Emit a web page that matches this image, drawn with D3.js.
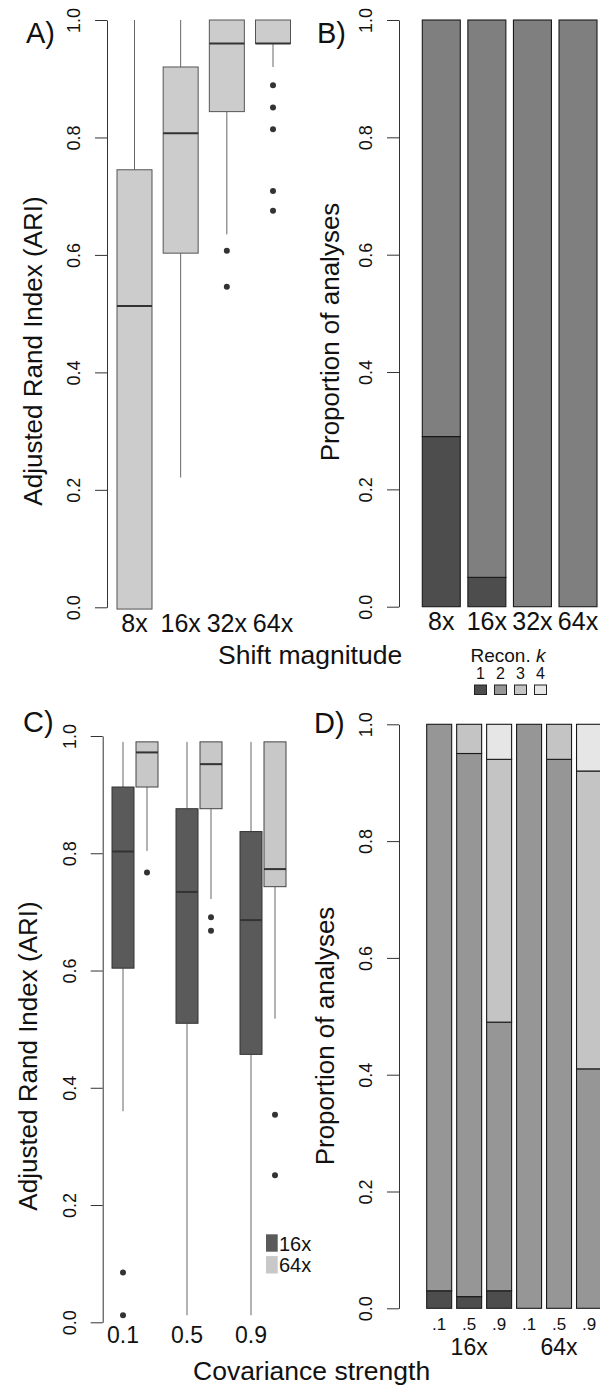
<html>
<head>
    <script src="https://d3js.org/d3.v7.min.js"></script>
    <style>
        body { margin: 0; background: #fff; }
        text { font-family: "Liberation Sans", Arial, Helvetica, sans-serif; fill: #111; }
    </style>
</head>

<body>
    <svg id="fig"></svg>

    <script>
        var W = 600, H = 1389;

        // panel A: ARI by shift magnitude (lower whisker, Q1, median, Q3, upper whisker)
        var shiftLabels = ["8x", "16x", "32x", "64x"];
        var shiftStats = [
            [-0.003, -0.003, 0.513, 0.745, 1.0],
            [0.221, 0.603, 0.807, 0.920, 1.0],
            [0.635, 0.844, 0.960, 1.0, 1.0],
            [0.920, 0.960, 0.960, 1.0, 1.0]
        ];
        var shiftOutliers = [[], [], [0.607, 0.546], [0.889, 0.851, 0.814, 0.709, 0.675]];

        // panel B: proportion of analyses by reconstructed k
        var reconK = ["1", "2", "3", "4"];
        var shiftPropK1 = [0.29, 0.05, 0.0, 0.0];
        var shiftPropK2 = [0.71, 0.95, 1.0, 1.0];

        // panel C: ARI by covariance strength, 16x and 64x
        var covLabels = ["0.1", "0.5", "0.9"];
        var cov16Stats = [
            [0.360, 0.604, 0.803, 0.913, 0.990],
            [0.012, 0.510, 0.734, 0.876, 0.990],
            [0.012, 0.457, 0.686, 0.837, 0.990]
        ];
        var cov64Stats = [
            [0.804, 0.913, 0.972, 0.990, 0.990],
            [0.722, 0.876, 0.952, 0.990, 0.990],
            [0.518, 0.743, 0.773, 0.990, 0.990]
        ];
        var cov16Outliers = [[0.085, 0.012], [], []];
        var cov64Outliers = [[0.767], [0.691, 0.668], [0.354, 0.251]];
        var shiftGroups = ["16x", "64x"];

        // panel D: proportion of analyses by reconstructed k
        var covTicks = [".1", ".5", ".9", ".1", ".5", ".9"];
        var covPropK1 = [0.03, 0.02, 0.03, 0.0, 0.0, 0.0];
        var covPropK2 = [0.97, 0.93, 0.46, 1.0, 0.94, 0.41];
        var covPropK3 = [0.0, 0.05, 0.45, 0.0, 0.06, 0.51];
        var covPropK4 = [0.0, 0.0, 0.06, 0.0, 0.0, 0.08];

        var yTicks = [0, 0.2, 0.4, 0.6, 0.8, 1.0];
        var kColors = ["#4d4d4d", "#969696", "#c4c4c4", "#e6e6e6"];

        var svg = d3.select("#fig").attr("width", W).attr("height", H);

        function yAxis(g, y, x0)
        {
            g.attr("transform", "translate(" + x0 + ",0)")
                .call(d3.axisLeft(y).tickValues(yTicks).tickFormat(d3.format(".1f"))
                    .tickSize(12).tickSizeOuter(0));
            g.select(".domain").attr("stroke", "#333");
            g.selectAll(".tick line").attr("stroke", "#333");
            g.selectAll(".tick text")
                .attr("transform", "rotate(-90)")
                .attr("x", 0).attr("y", -27).attr("dy", 0)
                .attr("text-anchor", "middle")
                .style("font-size", "18px")
                .attr("fill", "#222");
        }

        function yTitle(txt, x, cy)
        {
            svg.append("text")
                .attr("transform", "translate(" + x + "," + cy + ") rotate(-90)")
                .attr("text-anchor", "middle")
                .style("font-size", "26px")
                .text(txt);
        }

        function label(txt, x, y, size, anchor)
        {
            return svg.append("text")
                .attr("x", x).attr("y", y)
                .attr("text-anchor", anchor || "middle")
                .style("font-size", size + "px")
                .text(txt);
        }

        function boxes(data, outs, xs, y, w, fill, stroke, wcol)
        {
            var g = svg.append("g");
            data.forEach(function(s, i)
            {
                var cx = xs(i);
                // whiskers
                g.append("line").attr("x1", cx).attr("x2", cx)
                    .attr("y1", y(s[4])).attr("y2", y(s[3]))
                    .attr("stroke", wcol).attr("stroke-width", 1);
                g.append("line").attr("x1", cx).attr("x2", cx)
                    .attr("y1", y(s[1])).attr("y2", y(s[0]))
                    .attr("stroke", wcol).attr("stroke-width", 1);
                g.append("rect")
                    .attr("x", cx - w / 2).attr("width", w)
                    .attr("y", y(s[3])).attr("height", Math.max(0, y(s[1]) - y(s[3])))
                    .attr("fill", fill).attr("stroke", stroke).attr("stroke-width", 1);
                g.append("line")
                    .attr("x1", cx - w / 2).attr("x2", cx + w / 2)
                    .attr("y1", y(s[2])).attr("y2", y(s[2]))
                    .attr("stroke", "#333").attr("stroke-width", 2);
                g.selectAll(null).data(outs[i]).enter().append("circle")
                    .attr("cx", cx).attr("cy", function(d){ return y(d); })
                    .attr("r", 3).attr("fill", "#333");
            });
        }

        function stacks(series, colors, xb, y)
        {
            var n = series[0].length;
            var rows = d3.range(n).map(function(i)
            {
                var r = {i: i};
                series.forEach(function(s, k){ r["k" + k] = s[i]; });
                return r;
            });
            var keys = series.map(function(s, k){ return "k" + k; });
            var st = d3.stack().keys(keys)(rows);
            var g = svg.append("g");
            st.forEach(function(layer, k)
            {
                g.selectAll(null).data(layer.filter(function(d){ return d[1] - d[0] > 0; }))
                    .enter().append("rect")
                    .attr("x", function(d){ return xb(d.data.i); })
                    .attr("width", xb.bandwidth())
                    .attr("y", function(d){ return y(d[1]); })
                    .attr("height", function(d){ return y(d[0]) - y(d[1]); })
                    .attr("fill", colors[k])
                    .attr("stroke", "#1a1a1a").attr("stroke-width", 1.1);
            });
        }

        // ---------- A ----------
        var yA = d3.scaleLinear().domain([0, 1]).range([607.3, 20]);
        var xA = d3.scalePoint().domain(d3.range(shiftLabels.length)).range([134.5, 273]);
        boxes(shiftStats, shiftOutliers, xA, yA, 35, "#cccccc", "#555", "#666");
        yAxis(svg.append("g"), yA, 107);
        shiftLabels.forEach(function(t, i){ label(t, xA(i), 631.5, 25); });
        yTitle("Adjusted Rand Index (ARI)", 41.5, 351);
        label("A)", 26, 43, 29, "start");
        label("Shift magnitude", 218, 664, 26.5, "start");

        // ---------- B ----------
        var yB = d3.scaleLinear().domain([0, 1]).range([606.7, 20]);
        var xB = d3.scaleBand().domain(d3.range(shiftLabels.length))
            .range([418.5, 600.8]).paddingInner(0.1667).paddingOuter(0.0833);
        stacks([shiftPropK1, shiftPropK2], ["#4d4d4d", "#7f7f7f"], xB, yB);
        yAxis(svg.append("g"), yB, 399);
        shiftLabels.forEach(function(t, i){ label(t, xB(i) + xB.bandwidth() / 2, 630, 25); });
        yTitle("Proportion of analyses", 339, 332);
        label("B)", 317, 43, 29, "start");

        // legend for k
        var kt = label("Recon. ", 470.5, 662, 19, "start");
        kt.append("tspan").style("font-style", "italic").text("k");
        var xK = d3.scalePoint().domain(reconK).range([480.5, 540.5]);
        reconK.forEach(function(k, i)
        {
            label(k, xK(k), 679, 16);
            svg.append("rect")
                .attr("x", xK(k) - 6).attr("y", 685).attr("width", 12).attr("height", 9.5)
                .attr("fill", kColors[i]).attr("stroke", "#222").attr("stroke-width", 1);
        });

        // ---------- C ----------
        var yC = d3.scaleLinear().domain([0, 1]).range([1322.3, 736]);
        var xC = d3.scalePoint().domain(d3.range(covLabels.length)).range([123, 251]);
        var xC64 = function(i){ return xC(i) + 24; };
        boxes(cov16Stats, cov16Outliers, xC, yC, 22, "#5a5a5a", "#333", "#666");
        boxes(cov64Stats, cov64Outliers, xC64, yC, 22, "#c8c8c8", "#444", "#666");
        yAxis(svg.append("g"), yC, 102.7);
        covLabels.forEach(function(t, i){ label(t, xC(i), 1343, 23); });
        yTitle("Adjusted Rand Index (ARI)", 36.7, 1056);
        label("C)", 23, 732, 29, "start");
        label("Covariance strength", 193, 1380, 26.5, "start");
        shiftGroups.forEach(function(t, i)
        {
            svg.append("rect").attr("x", 266).attr("y", 1234.3 + i * 21.8)
                .attr("width", 11.7).attr("height", 17.4)
                .attr("fill", i == 0 ? "#5a5a5a" : "#c8c8c8");
            label(t, 279, 1250.5 + i * 21.8, 20, "start");
        });

        // ---------- D ----------
        var yD = d3.scaleLinear().domain([0, 1]).range([1308.3, 724.3]);
        var xD = d3.scaleBand().domain(d3.range(covTicks.length))
            .range([424.2, 604]).paddingInner(0.1667).paddingOuter(0.0833);
        stacks([covPropK1, covPropK2, covPropK3, covPropK4], kColors, xD, yD);
        yAxis(svg.append("g"), yD, 399);
        covTicks.forEach(function(t, i){ label(t, xD(i) + xD.bandwidth() / 2, 1330, 17); });
        shiftGroups.forEach(function(t, i)
        {
            label(t, xD(i * 3 + 1) + xD.bandwidth() / 2, 1355, 23);
        });
        yTitle("Proportion of analyses", 334, 1036);
        label("D)", 314, 733, 29, "start");
    </script>
</body>
</html>
